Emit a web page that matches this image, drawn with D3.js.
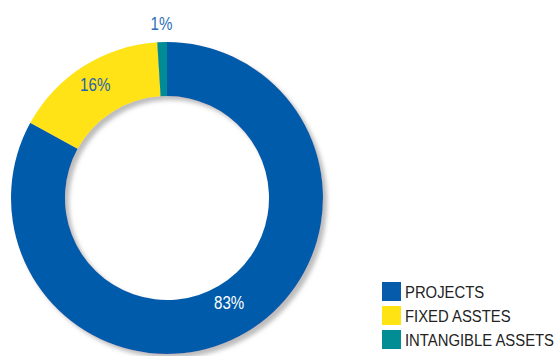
<!DOCTYPE html>
<html>
<head>
<meta charset="utf-8">
<script src="https://cdn.jsdelivr.net/npm/d3@7"></script>
<style>
  html, body { margin: 0; padding: 0; background: #fff; }
  svg { display: block; }
  text { font-family: "Liberation Sans Narrow", "Arial Narrow", "Liberation Sans", sans-serif; }
</style>
</head>
<body>
<svg id="chart" width="560" height="356"></svg>
<script>
// Asset split, in percent
const categories = ["PROJECTS", "FIXED ASSTES", "INTANGIBLE ASSETS"];
const values = [83, 16, 1];
const colors = ["#065CAA", "#FFE313", "#028C94"];
const labelColors = ["#ffffff", "#1F62AE", "#2E6FB8"];
const labelRadii = [122, 134, 175];

const svg = d3.select("#chart");
const cx = 167, cy = 198, outerR = 156, innerR = 102;
const narrow = 0.84;       // horizontal squeeze for the percent labels
const legendNarrow = 0.9;  // and for the legend entries

// Soft drop shadow under the ring
const defs = svg.append("defs");
const f = defs.append("filter").attr("id", "shadow")
  .attr("x", "-20%").attr("y", "-20%").attr("width", "140%").attr("height", "140%");
f.append("feDropShadow")
  .attr("dx", 4).attr("dy", 4).attr("stdDeviation", 2.2)
  .attr("flood-color", "#9a9a9a").attr("flood-opacity", 0.65);

const pie = d3.pie().sort(null).value(d => d)(values);
const arc = d3.arc().innerRadius(innerR).outerRadius(outerR);

const g = svg.append("g").attr("transform", `translate(${cx},${cy})`);
g.append("g").attr("filter", "url(#shadow)")
  .selectAll("path").data(pie).join("path")
  .attr("d", arc)
  .attr("fill", (d, i) => colors[i]);

// Percentage labels
g.selectAll("text.pct").data(pie).join("text")
  .attr("class", "pct")
  .attr("transform", (d, i) => {
    const r = labelRadii[i];
    const [x, y] = d3.arc().innerRadius(r).outerRadius(r).centroid(d);
    return `translate(${x},${y}) scale(${narrow},1)`;
  })
  .attr("text-anchor", "middle")
  .attr("dy", "0.36em")
  .attr("font-size", 18)
  .attr("fill", (d, i) => labelColors[i])
  .text(d => d.data + "%");

// Legend
const legend = svg.append("g").attr("transform", "translate(382,282)");
const item = legend.selectAll("g").data(categories).join("g")
  .attr("transform", (d, i) => `translate(0,${i * 24})`);
item.append("rect").attr("width", 19).attr("height", 19)
  .attr("fill", (d, i) => colors[i]);
item.append("text")
  .attr("transform", `translate(23,16) scale(${legendNarrow},1)`)
  .attr("font-size", 16.5).attr("fill", "#222")
  .text(d => d);
</script>
</body>
</html>
